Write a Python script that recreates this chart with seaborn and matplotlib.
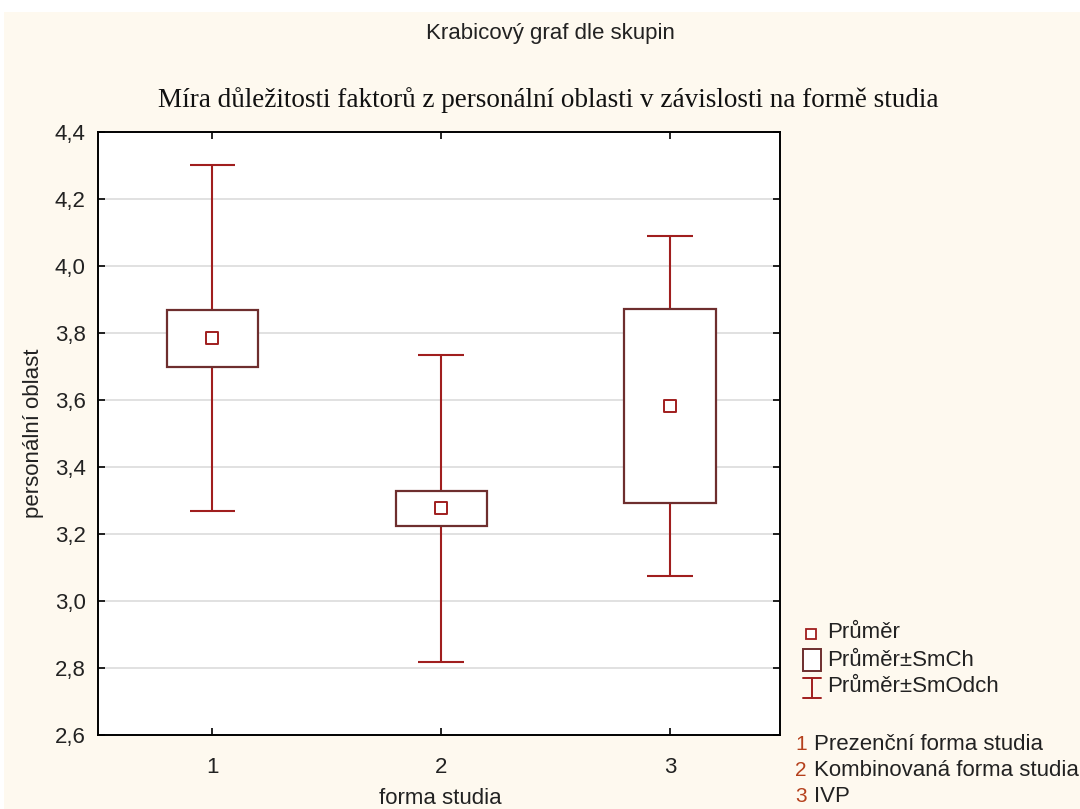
import matplotlib
matplotlib.use("Agg")
import matplotlib.pyplot as plt
from matplotlib.patches import Rectangle
from matplotlib.lines import Line2D
import seaborn as sns
import pandas as pd

# Group summary statistics
groups = [1, 2, 3]
group_names = ["Prezenční forma studia", "Kombinovaná forma studia", "IVP"]
means = [3.785, 3.277, 3.583]
se = [0.085, 0.052, 0.290]
sd = [0.516, 0.458, 0.507]
y_ticks = [2.6, 2.8, 3.0, 3.2, 3.4, 3.6, 3.8, 4.0, 4.2, 4.4]

df = pd.DataFrame({"skupina": groups, "prumer": means, "smch": se, "smodch": sd})

sns.set_theme(style="white")
plt.rcParams["font.family"] = ["Liberation Sans", "DejaVu Sans"]

BG = "#FEF9EF"
WHISK = "#A01E1E"
BOXC = "#6E2E2E"
NUMC = "#B5401C"
TXT = "#222222"
FS = 16

fig = plt.figure(figsize=(10.8, 8.09), dpi=100, facecolor="white")
fig.patches.append(Rectangle((4 / 1080, 0), 1, 1 - 12 / 809, transform=fig.transFigure,
                             facecolor=BG, edgecolor="none", zorder=-10))

ax = fig.add_axes([98 / 1080, 1 - 735 / 809, 682 / 1080, 603 / 809])
ax.set_facecolor("white")

box_w = 0.4
cap_w = 0.2
for _, r in df.iterrows():
    x, m, s1, s2 = r["skupina"], r["prumer"], r["smch"], r["smodch"]
    # whiskers: mean ± SD
    ax.vlines(x, m - s2, m + s2, color=WHISK, lw=1.5, zorder=2)
    ax.hlines([m - s2, m + s2], x - cap_w / 2, x + cap_w / 2, color=WHISK, lw=1.5, zorder=2)
    # box: mean ± SE
    ax.add_patch(Rectangle((x - box_w / 2, m - s1), box_w, 2 * s1, facecolor="white",
                           edgecolor=BOXC, lw=1.6, zorder=3))

sns.scatterplot(data=df, x="skupina", y="prumer", marker="s", s=70, facecolor="white",
                edgecolor=WHISK, linewidth=1.4, zorder=4, ax=ax, legend=False)

ax.set_xlim(0.5, 3.48)
ax.set_ylim(2.6, 4.4)
ax.set_xticks(groups)
ax.set_xticklabels([str(g) for g in groups])
ax.set_yticks(y_ticks)
ax.set_yticklabels([f"{v:.1f}".replace(".", ",") for v in y_ticks])
ax.yaxis.grid(True, color="#DCDCDC", lw=1.2, zorder=0)
ax.set_axisbelow(True)
ax.tick_params(axis="both", which="both", direction="in", length=5, width=1.2,
               color="black", labelsize=FS, top=True, right=True, left=True, bottom=True,
               labelcolor=TXT)
ax.tick_params(axis="x", pad=16)
ax.tick_params(axis="y", pad=9)
for sp in ax.spines.values():
    sp.set_color("black")
    sp.set_linewidth(1.4)

ax.set_xlabel("")
ax.set_ylabel("personální oblast", fontsize=FS, color=TXT, labelpad=8)
fig.text(440 / 1080, 1 - 798 / 809, "forma studia", ha="center", va="center",
         fontsize=FS, color=TXT)

fig.text(550 / 1080, 1 - 33 / 809, "Krabicový graf dle skupin", ha="center", va="center",
         fontsize=FS, color=TXT)
fig.text(548 / 1080, 1 - 100 / 809,
         "Míra důležitosti faktorů z personální oblasti v závislosti na formě studia",
         ha="center", va="center", fontsize=19.5, family=["Liberation Serif", "DejaVu Serif"],
         color="#111111")


def fx(px):
    return px / 1080


def fy(py):
    return 1 - py / 809


# legend entries
fig.add_artist(Line2D([fx(810.5)], [fy(634)], marker="s", markersize=7.5, markerfacecolor="white",
                      markeredgecolor=WHISK, markeredgewidth=1.3, transform=fig.transFigure))
fig.add_artist(Rectangle((fx(803), fy(671)), fx(18), 22 / 809, transform=fig.transFigure,
                         facecolor="white", edgecolor=BOXC, lw=1.4))
fig.add_artist(Line2D([fx(812), fx(812)], [fy(678), fy(698)], color=WHISK, lw=1.4,
                      transform=fig.transFigure))
fig.add_artist(Line2D([fx(803), fx(821)], [fy(678), fy(678)], color=WHISK, lw=1.4,
                      transform=fig.transFigure))
fig.add_artist(Line2D([fx(803), fx(821)], [fy(698), fy(698)], color=WHISK, lw=1.4,
                      transform=fig.transFigure))
for py, label in zip([633, 660, 687], ["Průměr", "Průměr±SmCh", "Průměr±SmOdch"]):
    fig.text(fx(827), fy(py), label, ha="left", va="center", fontsize=FS, color=TXT)

for py, g, name in zip([744, 771, 797], groups, group_names):
    fig.text(fx(795), fy(py), str(g), ha="left", va="center", fontsize=15, color=NUMC)
    fig.text(fx(814), fy(py), name, ha="left", va="center", fontsize=FS, color=TXT)

fig.savefig("out.png", dpi=100, facecolor=fig.get_facecolor())
